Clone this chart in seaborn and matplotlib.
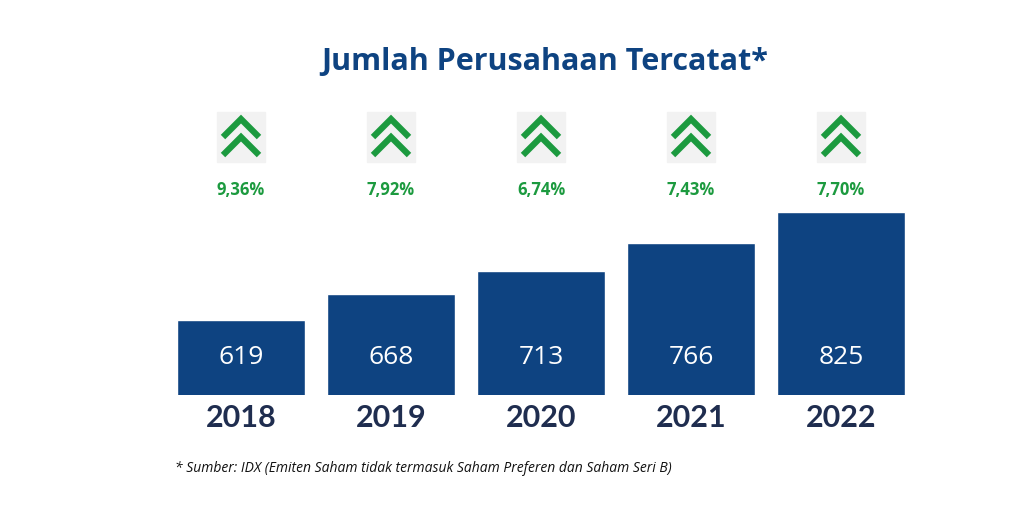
import matplotlib
matplotlib.use("Agg")
import matplotlib.pyplot as plt
import seaborn as sns
import pandas as pd
from matplotlib.patches import Rectangle

years = ["2018", "2019", "2020", "2021", "2022"]
counts = [619, 668, 713, 766, 825]
growth = ["9,36%", "7,92%", "6,74%", "7,43%", "7,70%"]

navy = "#0e4381"
green = "#1c9a3f"

sns.set_theme(style="white")
plt.rcParams['font.family'] = ['Open Sans', 'DejaVu Sans']

fig = plt.figure(figsize=(10.24, 5.12), dpi=100)
ax = fig.add_axes([166/1024, 1-395/512, 750/1024, 395/512])
df = pd.DataFrame({"year": years, "count": counts})
sns.barplot(data=df, x="year", y="count", color=navy, saturation=1, width=0.85, ax=ax)
ax.set_ylim(476, 1230)
ax.set_xlim(-0.5, 4.5)
ax.axis("off")

for i, (c, g) in enumerate(zip(counts, growth)):
    ax.text(i, 476 + 38/0.524 - 0, str(c), ha="center", va="center", color="white", fontsize=19)
    # percentage
    ax.text(i, 476 + (395-190)/0.524, g, ha="center", va="center", color=green, fontsize=12, fontweight="bold")
    # arrow icon
    cy = 476 + (395-137)/0.524
    hw = 0.16
    ax.add_patch(Rectangle((i - hw, cy - 25/0.524), 2*hw, 50/0.524, color="#f2f2f2", zorder=1))
    for dy in (9, -9):
        yb = cy + dy/0.524
        ax.plot([i - 0.12, i, i + 0.12], [yb - 9/0.524, yb + 9/0.524, yb - 9/0.524],
                color=green, lw=4.5, solid_capstyle="butt", solid_joinstyle="miter", zorder=2)
    fig.text((166 + 150*(i+0.5))/1024 - 0.0, 1-418/512, years[i], ha="center", va="center",
             color="#1f2d4f", fontsize=22, fontweight="bold", family=["Lato", "DejaVu Sans"])

fig.text(545/1024, 1-62/512, "Jumlah Perusahaan Tercatat*", ha="center", va="center",
         color=navy, fontsize=22, fontweight="bold")
fig.text(175/1024, 1-468/512, "* Sumber: IDX (Emiten Saham tidak termasuk Saham Preferen dan Saham Seri B)",
         ha="left", va="center", color="#111111", fontsize=10, style="italic")

fig.savefig("out.png", dpi=100)
